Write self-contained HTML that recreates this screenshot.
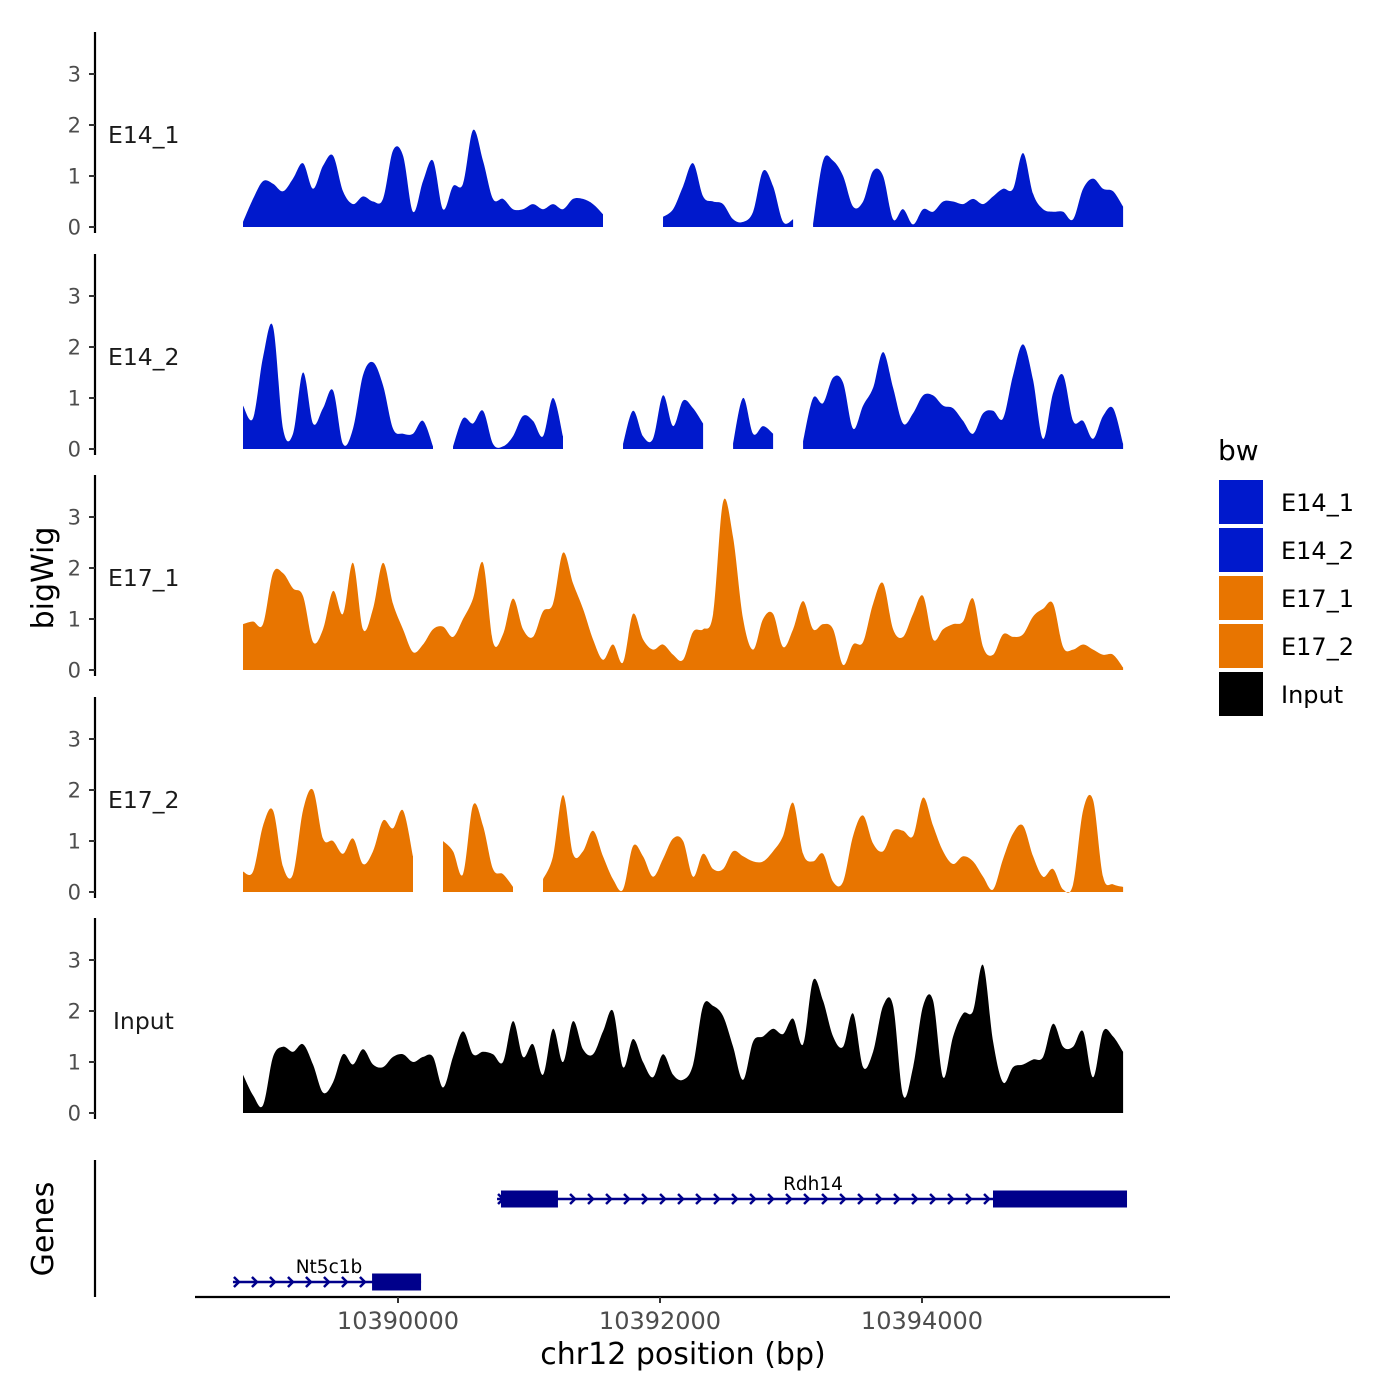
<!DOCTYPE html>
<html><head><meta charset="utf-8"><style>
body{margin:0;background:#fff;}
svg{display:block;font-family:"DejaVu Sans","Liberation Sans",sans-serif;}
</style></head><body>
<svg id="chart" width="1400" height="1400" viewBox="0 0 1400 1400" xmlns="http://www.w3.org/2000/svg"></svg>
<script>
const trackNames = ["E14_1","E14_2","E17_1","E17_2","Input"];
const trackColors = ["#0019CC","#0019CC","#E87500","#E87500","#000000"];
const gridStart = 10388817, gridStep = 76.34;
const e14_1 = [0.1,0.55,0.9,0.85,0.7,0.95,1.25,0.75,1.2,1.4,0.7,0.45,0.6,0.5,0.55,1.5,1.4,0.3,0.9,1.3,0.35,0.8,0.85,1.9,1.3,0.55,0.55,0.35,0.35,0.45,0.35,0.45,0.35,0.55,0.55,0.45,0.25,null,null,null,null,null,0.2,0.35,0.8,1.25,0.6,0.5,0.45,0.15,0.1,0.3,1.1,0.8,0.1,0.15,null,0.05,1.3,1.3,1.0,0.4,0.5,1.1,1.0,0.15,0.35,0.05,0.35,0.3,0.5,0.5,0.45,0.55,0.45,0.6,0.75,0.75,1.45,0.65,0.35,0.3,0.3,0.15,0.75,0.95,0.75,0.7,0.4];
const e14_2 = [0.85,0.6,1.8,2.4,0.4,0.3,1.5,0.5,0.8,1.15,0.1,0.4,1.45,1.7,1.25,0.4,0.3,0.3,0.55,0.05,null,0.05,0.6,0.5,0.75,0.1,0.05,0.25,0.65,0.55,0.25,1.0,0.25,null,null,null,null,null,0.1,0.75,0.25,0.2,1.05,0.45,0.95,0.8,0.5,null,null,0.1,1.0,0.3,0.45,0.3,null,null,0.15,1.0,0.9,1.4,1.3,0.4,0.85,1.2,1.9,1.2,0.5,0.7,1.05,1.05,0.85,0.8,0.55,0.3,0.7,0.75,0.6,1.45,2.05,1.35,0.2,1.1,1.45,0.55,0.55,0.2,0.65,0.8,0.1];
const e17_1 = [0.9,0.95,0.9,1.9,1.9,1.6,1.45,0.55,0.8,1.55,1.1,2.1,0.8,1.2,2.1,1.3,0.8,0.35,0.5,0.8,0.85,0.65,1.0,1.4,2.1,0.55,0.7,1.4,0.8,0.65,1.15,1.3,2.3,1.7,1.2,0.6,0.2,0.5,0.15,1.1,0.6,0.4,0.5,0.3,0.2,0.75,0.8,1.1,3.3,2.6,1.0,0.4,1.0,1.1,0.45,0.8,1.35,0.8,0.9,0.8,0.1,0.5,0.55,1.3,1.7,0.8,0.65,1.1,1.45,0.6,0.8,0.9,0.95,1.4,0.45,0.3,0.7,0.65,0.7,1.05,1.2,1.3,0.45,0.4,0.5,0.4,0.3,0.3,0.05];
const e17_2 = [0.4,0.4,1.3,1.6,0.5,0.35,1.6,2.0,1.05,1.0,0.75,1.05,0.55,0.8,1.4,1.25,1.6,0.7,null,null,1.0,0.8,0.35,1.7,1.3,0.45,0.35,0.1,null,null,0.25,0.7,1.9,0.75,0.8,1.2,0.7,0.25,0.05,0.9,0.7,0.3,0.65,1.05,1.0,0.3,0.75,0.45,0.45,0.8,0.7,0.6,0.6,0.8,1.1,1.75,0.75,0.6,0.75,0.2,0.2,1.1,1.5,0.95,0.8,1.2,1.2,1.1,1.85,1.3,0.8,0.55,0.7,0.6,0.3,0.05,0.65,1.15,1.3,0.7,0.3,0.45,0.05,0.15,1.6,1.8,0.3,0.15,0.1];
const input = [0.75,0.35,0.15,1.1,1.3,1.2,1.35,0.95,0.4,0.6,1.15,0.95,1.25,0.95,0.9,1.1,1.15,1.0,1.1,1.1,0.5,1.1,1.6,1.15,1.2,1.15,1.0,1.8,1.1,1.35,0.75,1.65,1.0,1.8,1.25,1.15,1.6,2.0,0.9,1.45,1.0,0.7,1.15,0.75,0.65,0.95,2.1,2.1,1.9,1.3,0.65,1.4,1.5,1.65,1.55,1.85,1.35,2.6,2.2,1.5,1.3,1.95,0.9,1.2,2.1,2.1,0.35,0.9,2.1,2.2,0.7,1.5,1.95,2.0,2.9,1.4,0.6,0.9,0.95,1.05,1.1,1.75,1.3,1.3,1.6,0.7,1.6,1.5,1.2];
const trackValues = [e14_1,e14_2,e17_1,e17_2,input];
const yTicks = [0,1,2,3];
const xTicks = [10390000,10392000,10394000];
const geneNames = ["Rdh14","Nt5c1b"];
const geneStarts = [10390756,10388740];
const geneEnds = [10395565,10390176];
const exonStarts = [[10390786,10394542],[10389802]];
const exonEnds = [[10391221,10395565],[10390176]];

const svg = document.getElementById('chart');
const NS = 'http://www.w3.org/2000/svg';
function mk(tag, attrs, parent){const e=document.createElementNS(NS,tag);for(const k in attrs)e.setAttribute(k,attrs[k]);(parent||svg).appendChild(e);return e;}
const xScale = bp => 398 + (bp - 10390000) * 0.131;
const zeros = [227,449,670,892,1113];
const yUnit = 51;

function smoothPath(pts){
  let d = 'L'+pts[0][0]+','+pts[0][1];
  for(let i=0;i<pts.length-1;i++){
    const p0=pts[Math.max(0,i-1)],p1=pts[i],p2=pts[i+1],p3=pts[Math.min(pts.length-1,i+2)];
    const c1x=p1[0]+(p2[0]-p0[0])/6, c1y=p1[1]+(p2[1]-p0[1])/6;
    const c2x=p2[0]-(p3[0]-p1[0])/6, c2y=p2[1]-(p3[1]-p1[1])/6;
    d+=' C'+c1x.toFixed(1)+','+c1y.toFixed(1)+' '+c2x.toFixed(1)+','+c2y.toFixed(1)+' '+p2[0].toFixed(1)+','+p2[1].toFixed(1);
  }
  return d;
}

trackNames.forEach((name,t)=>{
  const z = zeros[t];
  const g = mk('g',{});
  
  
  const ax = mk('line',{x1:95,x2:95,y1:z-195,y2:z+6,stroke:'#000','stroke-width':2.2},g);
  
  
  yTicks.forEach(v=>{
    const y = z - v*yUnit;
    mk('line',{x1:89,x2:95,y1:y,y2:y,stroke:'#333','stroke-width':2},g);
    const tx = mk('text',{x:81,y:y+7.5,'text-anchor':'end','font-size':21,fill:'#4d4d4d'},g);
    tx.textContent = v;
    
    
  });
  const lbl = mk('text',{x:name==='Input'?113:108,y:z-84,'font-size':23.5,fill:'#1a1a1a'},g);
  lbl.textContent = name;
  
  
  const vals = trackValues[t];
  let seg = [];
  const flush = ()=>{
    if(seg.length){
      let d = 'M'+seg[0][0].toFixed(1)+','+z+' '+smoothPath(seg);
      d+=' L'+seg[seg.length-1][0].toFixed(1)+','+z+' Z';
      const p = mk('path',{d:d,fill:trackColors[t]},g);
      
      
    }
    seg=[];
  };
  vals.forEach((v,i)=>{
    const x = xScale(gridStart + i*gridStep);
    if(v===null){flush();return;}
    seg.push([x, z - v*yUnit]);
  });
  flush();
});

const yt = mk('text',{x:0,y:0,'font-size':30,fill:'#000','text-anchor':'middle',transform:'translate(53,578) rotate(-90)'});
yt.textContent='bigWig';



const gg = mk('g',{});


mk('line',{x1:95,x2:95,y1:1160,y2:1297,stroke:'#000','stroke-width':2.2},gg);
const gt = mk('text',{x:0,y:0,'font-size':30,fill:'#000','text-anchor':'middle',transform:'translate(53,1229) rotate(-90)'},gg);
gt.textContent='Genes';


const geneY = [1199,1282];
geneNames.forEach((n,i)=>{
  const y = geneY[i];
  const x1 = xScale(geneStarts[i]), x2 = xScale(geneEnds[i]);
  const gl = mk('line',{x1:x1,x2:x2,y1:y,y2:y,stroke:'#00008B','stroke-width':2.5},gg);
  
  
  for(let ax=x1+4; ax<x2-4; ax+=18){
    mk('polyline',{points:(ax-3)+','+(y-5)+' '+(ax+2)+','+y+' '+(ax-3)+','+(y+5),fill:'none',stroke:'#00008B','stroke-width':2.5},gg);
  }
  exonStarts[i].forEach((s,j)=>{
    const ex1 = xScale(s), ex2 = xScale(exonEnds[i][j]);
    const r = mk('rect',{x:ex1,y:y-8.5,width:ex2-ex1,height:17,fill:'#00008B'},gg);
    
    
  });
  const tl = mk('text',{x:i===0?813:329,y:y-9,'font-size':18.5,'text-anchor':'middle',fill:'#000'},gg);
  tl.textContent = n;
  
  
});

const xa = mk('line',{x1:195,x2:1170,y1:1297,y2:1297,stroke:'#000','stroke-width':2.2});


xTicks.forEach(v=>{
  const x = xScale(v);
  mk('line',{x1:x,x2:x,y1:1297,y2:1303,stroke:'#333','stroke-width':2});
  const t = mk('text',{x:x,y:1329,'text-anchor':'middle','font-size':24,fill:'#4d4d4d'});
  t.textContent = v;
  
  
});
const xt = mk('text',{x:683,y:1364,'text-anchor':'middle','font-size':30,fill:'#000'});
xt.textContent='chr12 position (bp)';



const lg = mk('g',{});


const lt = mk('text',{x:1218,y:460,'font-size':28,fill:'#000'},lg);
lt.textContent='bw';


trackNames.forEach((n,i)=>{
  const y = 480 + i*48;
  const r = mk('rect',{x:1219,y:y,width:44,height:44,fill:trackColors[i]},lg);
  
  
  const t = mk('text',{x:1281,y:y+31,'font-size':24,fill:'#000'},lg);
  t.textContent = n;
  
  
});
</script>
</body></html>
